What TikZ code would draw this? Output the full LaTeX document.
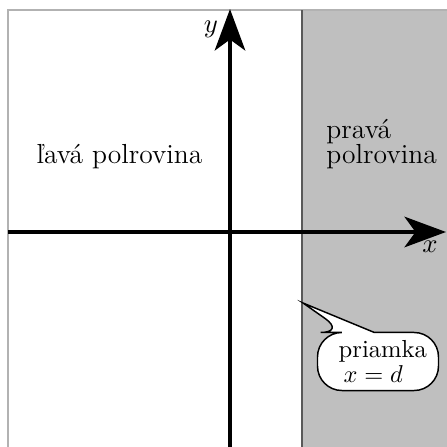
\documentclass[tikz,border=0pt]{standalone}
\usepackage{tikz}
\usetikzlibrary{arrows.meta,positioning,calc}

\begin{document}
\begin{tikzpicture}[
  x=0.41pt, y=0.41pt,
  font=\fontsize{11.3}{10.4}\selectfont,
  frame/.style={draw=black!30, line width=0.5pt},
  halfplane/.style={fill=black!25},
  border/.style={draw=black!65, line width=0.9pt},
  axis/.style={line width=1.6pt, -{Stealth[length=17pt, width=12.5pt, inset=4.5pt]}},
  txt/.style={inner sep=0pt, anchor=base west},
  bubble/.style={align=left, font=\fontsize{10.1}{10.3}\selectfont,
    minimum width=49.2pt, minimum height=23.4pt, inner sep=0pt}
]
\useasboundingbox (0,0) rectangle (447,447);
% pravá polrovina
\fill[halfplane] (302,0) rectangle (447,437);
\draw[frame] (8,0) |- (447,437);
\draw[border] (302,0) -- (302,437);
% osi
\coordinate (xs) at (8,215);
\coordinate (xe) at (446,215);
\coordinate (ys) at (230,0);
\coordinate (ye) at (230,438);
\draw[axis] (xs) -- (xe);
\draw[axis] (ys) -- (ye);
\node (xl) at (430,200) {$x$};
\node (yl) at (211,418) {$y$};
% popisy
\node[inner sep=0pt, anchor=base] (lava) at (119.5,284) {ľavá polrovina};
\node[txt] (prava) at (326,309) {pravá};
\node[txt] (polrovina) at (326,284) {polrovina};
% bublina
\coordinate (tip) at (303,144);
\node[bubble] (priamka) at (378,85.5) {\hspace{4pt}priamka\\\hspace{6pt}$x=d$};
\draw[fill=white, line width=0.6pt, rounded corners=10pt]
  ($(priamka.north)+(-1.5pt,0)$) -- (priamka.north east) -- (priamka.south east)
  -- (priamka.south west) -- (priamka.north west)
  -- ($(priamka.north)+(-13.5pt,0)$) [sharp corners] -- (tip)
  -- ($(priamka.north)+(-1.5pt,0)$);
\node[bubble] at (priamka) {\hspace{4pt}priamka\\\hspace{6pt}$x=d$};
\end{tikzpicture}
\end{document}
